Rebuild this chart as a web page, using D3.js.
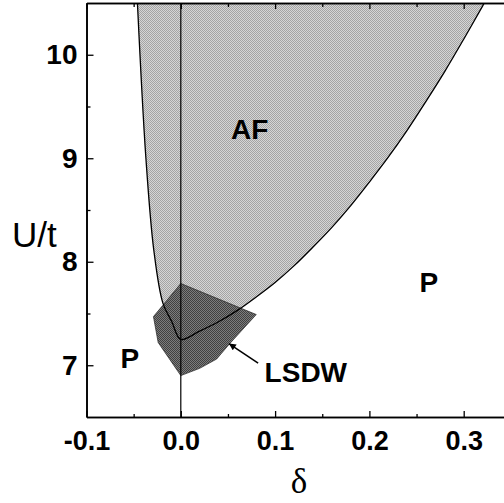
<!DOCTYPE html>
<html>
<head>
<meta charset="utf-8">
<script src="https://cdn.jsdelivr.net/npm/d3@7"></script>
<style>
  html, body { margin: 0; padding: 0; background: #fff; }
  svg { display: block; }
</style>
</head>
<body>
<div id="chart"></div>
<script>
// Phase diagram U/t vs doping delta

// AF boundary, left branch (top -> bottom), [delta, U/t]
const afLeft = [[-0.046, 10.5], [-0.037, 9.0], [-0.0286, 8.11], [-0.019, 7.6], [-0.0095, 7.42], [0, 7.25]];
// AF boundary, right branch (bottom -> top)
const afRight = [[0.02, 7.33], [0.04, 7.42], [0.06, 7.53], [0.08, 7.66], [0.10, 7.80], [0.12, 7.96],
  [0.14, 8.14], [0.16, 8.33], [0.18, 8.54], [0.20, 8.77], [0.22, 9.01], [0.24, 9.27], [0.26, 9.55],
  [0.28, 9.84], [0.30, 10.15], [0.32, 10.47], [0.323, 10.52]];
// LSDW pocket outline
const lsdw = [[0, 7.79], [0.08, 7.49], [0.052, 7.21], [0.038, 7.06], [0.02, 6.97], [0, 6.9],
  [-0.024, 7.22], [-0.029, 7.47], [-0.019, 7.58]];

const xMajor = [-0.1, 0.0, 0.1, 0.2, 0.3];
const xMinor = [-0.05, 0.05, 0.15, 0.25, 0.35];
const yMajor = [7, 8, 9, 10];
const yMinor = [7.5, 8.5, 9.5];

// region labels [text, delta, U/t at baseline]
const labels = [["AF", 0.073, 9.19], ["P", 0.263, 7.71], ["P", -0.054, 6.97], ["LSDW", 0.1326, 6.84]];
// arrow from LSDW label to the pocket
const arrow = [[0.082, 7.02], [0.051, 7.21]];

const W = 504, H = 503;
const x = d3.scaleLinear().domain([-0.1, 0.35]).range([86.5, 510.85]);
const y = d3.scaleLinear().domain([6.5, 10.5]).range([417, 3]);

const svg = d3.select("#chart").append("svg")
    .attr("width", W).attr("height", H)
    .attr("viewBox", [0, 0, W, H]);

const defs = svg.append("defs");
defs.append("clipPath").attr("id", "plot")
    .append("rect").attr("x", x(-0.1)).attr("y", y(10.5))
    .attr("width", x(0.35) - x(-0.1)).attr("height", y(6.5) - y(10.5));

// stipple textures like the scanned figure
function stipple(id, dark, light) {
    const p = defs.append("pattern").attr("id", id)
        .attr("patternUnits", "userSpaceOnUse").attr("width", 2).attr("height", 2);
    p.append("rect").attr("width", 2).attr("height", 2).attr("fill", light);
    p.append("rect").attr("width", 1).attr("height", 1).attr("fill", dark);
    p.append("rect").attr("x", 1).attr("y", 1).attr("width", 1).attr("height", 1).attr("fill", dark);
}
stipple("afFill", "#a4a4a4", "#d6d6d6");
stipple("lsdwFill", "#404040", "#7c7c7c");

const g = svg.append("g").attr("clip-path", "url(#plot)");

const line = d3.line().x(d => x(d[0])).y(d => y(d[1])).curve(d3.curveCatmullRom);
const afPts = afLeft.concat(afRight);

g.append("path").attr("d", line(afPts) + "Z")
    .attr("fill", "url(#afFill)").attr("stroke", "none");

g.append("path")
    .attr("d", d3.line().x(d => x(d[0])).y(d => y(d[1])).curve(d3.curveLinearClosed)(lsdw))
    .attr("fill", "url(#lsdwFill)").attr("stroke", "#222").attr("stroke-width", 0.7);

g.append("path").attr("d", line(afPts))
    .attr("fill", "none").attr("stroke", "#000").attr("stroke-width", 1.3);

// delta = 0 line
g.append("line")
    .attr("x1", x(0)).attr("x2", x(0)).attr("y1", y(10.5)).attr("y2", y(6.5))
    .attr("stroke", "#000").attr("stroke-width", 1.2);

// axes
const fmt = d => d.toFixed(1);
const font = "'Liberation Sans', Arial, sans-serif";

function styleAxis(sel, size) {
    sel.select(".domain").attr("stroke", "#000").attr("stroke-width", 1.6);
    sel.selectAll(".tick line").attr("stroke", "#000").attr("stroke-width", 1.3);
    sel.selectAll(".tick text").attr("fill", "#000")
        .style("font-family", font).style("font-size", (size || 27) + "px").style("font-weight", "bold");
}

svg.append("g").attr("transform", `translate(0,${y(6.5)})`)
    .call(d3.axisBottom(x).tickValues(xMajor).tickFormat(fmt).tickSize(-6).tickSizeOuter(0).tickPadding(13.5))
    .call(styleAxis, 27);
svg.append("g").attr("transform", `translate(0,${y(6.5)})`)
    .call(d3.axisBottom(x).tickValues(xMinor).tickFormat("").tickSize(-3).tickSizeOuter(0))
    .call(styleAxis);

svg.append("g").attr("transform", `translate(0,${y(10.5)})`)
    .call(d3.axisTop(x).tickValues(xMajor).tickFormat("").tickSize(-6).tickSizeOuter(0))
    .call(styleAxis);
svg.append("g").attr("transform", `translate(0,${y(10.5)})`)
    .call(d3.axisTop(x).tickValues(xMinor).tickFormat("").tickSize(-4).tickSizeOuter(0))
    .call(styleAxis);

svg.append("g").attr("transform", `translate(${x(-0.1)},0)`)
    .call(d3.axisLeft(y).tickValues(yMajor).tickFormat(d => d).tickSize(-7).tickSizeOuter(0).tickPadding(9))
    .call(styleAxis, 28);
svg.append("g").attr("transform", `translate(${x(-0.1)},0)`)
    .call(d3.axisLeft(y).tickValues(yMinor).tickFormat("").tickSize(-4).tickSizeOuter(0))
    .call(styleAxis);

// axis titles
svg.append("text").attr("x", 12).attr("y", 246.5).text("U/t")
    .style("font-family", font).style("font-size", "35px").attr("fill", "#000");
svg.append("text").attr("x", 299).attr("y", 493).attr("text-anchor", "middle").text("δ")
    .style("font-family", "'Liberation Serif', 'Times New Roman', serif").style("font-size", "35px").attr("fill", "#000");

// region labels
svg.selectAll(".lab").data(labels).join("text").attr("class", "lab")
    .attr("x", d => x(d[1])).attr("y", d => y(d[2]))
    .attr("text-anchor", "middle").text(d => d[0])
    .style("font-family", font).style("font-size", "28px").style("font-weight", "bold").attr("fill", "#000");

// arrow
defs.append("marker").attr("id", "head")
    .attr("viewBox", "0 -5 10 10").attr("refX", 10).attr("refY", 0)
    .attr("markerWidth", 9).attr("markerHeight", 7).attr("markerUnits", "userSpaceOnUse")
    .attr("orient", "auto")
    .append("path").attr("d", "M0,-5L10,0L0,5Z").attr("fill", "#000");
svg.append("line")
    .attr("x1", x(arrow[0][0])).attr("y1", y(arrow[0][1]))
    .attr("x2", x(arrow[1][0])).attr("y2", y(arrow[1][1]))
    .attr("stroke", "#000").attr("stroke-width", 1.5).attr("marker-end", "url(#head)");
</script>
</body>
</html>
